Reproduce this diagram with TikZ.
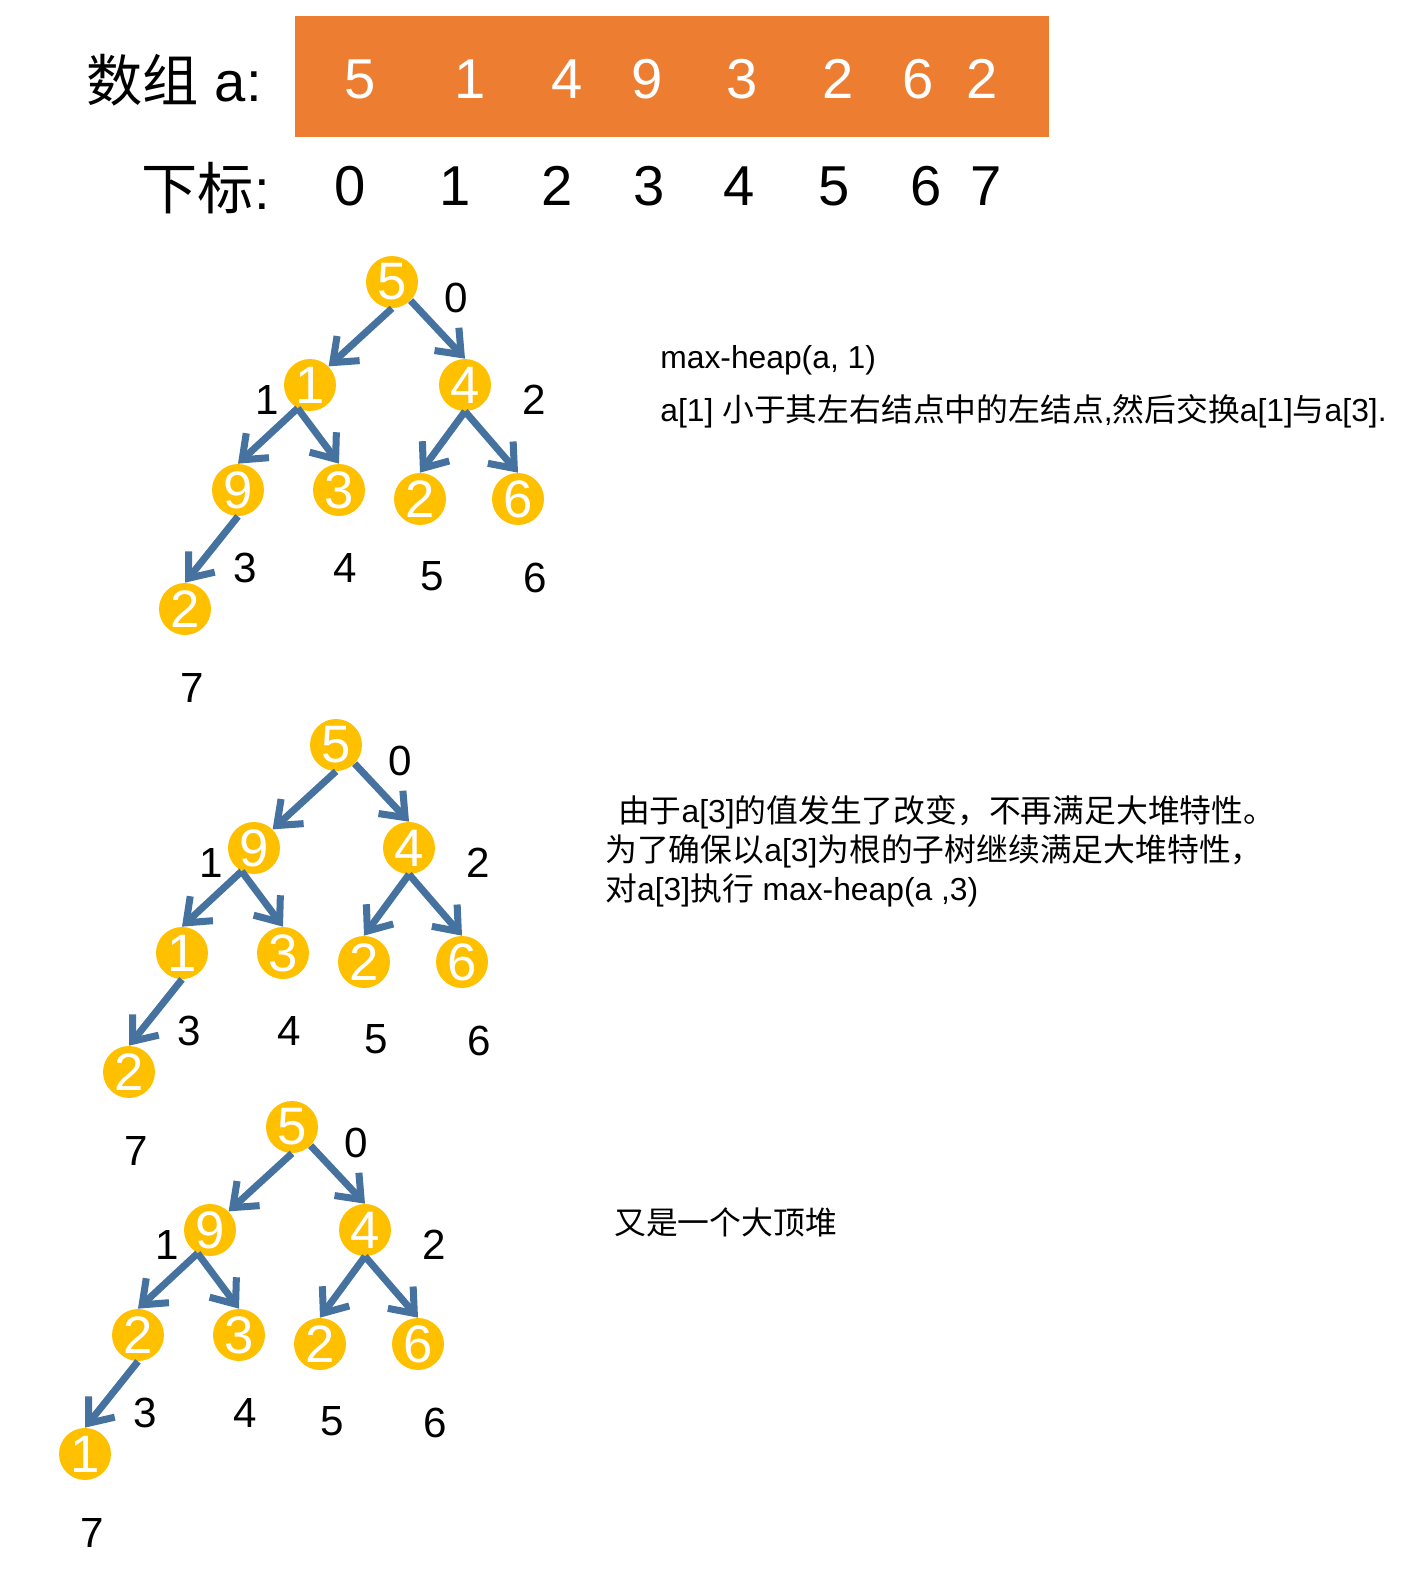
\documentclass[tikz,border=0pt]{standalone}
\usepackage{fontspec}
\setmainfont{Liberation Sans}
\newfontfamily\cjk{Noto Sans CJK SC}
\usepackage{tikz}
\usetikzlibrary{arrows.meta}
\definecolor{heapgold}{RGB}{255,192,0}
\definecolor{arrowblue}{RGB}{70,114,160}
\definecolor{arrayorange}{RGB}{237,125,49}

\newcommand{\heaptree}[9]{%
  \node[hnode] (#1n0) at (0,0)       {#2};
  \node[hnode] (#1n1) at (-82,103)   {#3};
  \node[hnode] (#1n2) at (73,103)    {#4};
  \node[hnode] (#1n3) at (-154,208)  {#5};
  \node[hnode] (#1n4) at (-53,208)   {#6};
  \node[hnode] (#1n5) at (28,217)    {#7};
  \node[hnode] (#1n6) at (126,217)   {#8};
  \node[hnode] (#1n7) at (-207,327)  {#9};
  \node[idx] (#1i0) at (64,16)    {0};
  \node[idx] (#1i1) at (-125,118) {1};
  \node[idx] (#1i2) at (142,118)  {2};
  \node[idx] (#1i3) at (-147,286) {3};
  \node[idx] (#1i4) at (-47,286)  {4};
  \node[idx] (#1i5) at (40,294)   {5};
  \node[idx] (#1i6) at (143,296)  {6};
  \node[idx] (#1i7) at (-200,406) {7};
  \draw[arr] (#1n0.south)      -- (#1n1.north east);
  \draw[arr] (#1n0.south east) -- (#1n2.north);
  \draw[arr] (#1n1.-118)       -- (#1n3.north);
  \draw[arr] (#1n1.-118)       -- (#1n4.north);
  \draw[arr] (#1n2.south)      -- (#1n5.north);
  \draw[arr] (#1n2.south)      -- (#1n6.north);
  \draw[arr] (#1n3.south)      -- (#1n7.north);
}

\begin{document}
\begin{tikzpicture}[
  x=0.02cm, y=-0.02cm,
  hnode/.style={circle, fill=heapgold, text=white, inner sep=0pt,
                minimum size=1.04cm, font=\fontsize{30}{36}\selectfont},
  idx/.style={inner sep=0pt, font=\fontsize{24}{29}\selectfont},
  arr/.style={-{Straight Barb[length=12pt, width=19pt]}, line width=4pt,
              draw=arrowblue},
  arraybox/.style={rectangle, fill=arrayorange, minimum width=15.08cm,
                   minimum height=2.42cm, inner sep=0pt},
  val/.style={inner sep=0pt, text=white, font=\fontsize{32}{38}\selectfont},
  big/.style={inner sep=0pt, font=\fontsize{32}{38}\selectfont},
  note/.style={inner sep=0pt, anchor=base west, align=left,
               font=\fontsize{18.1}{22}\selectfont}
]
  \useasboundingbox (0,0) rectangle (1422,1572);

  \node[arraybox] (arr) at (672,76.5) {};
  \node[big, anchor=east] (arrname) at (262,80) {{\cjk 数组} a:};
  \foreach \v/\x [count=\i from 0] in {5/360,1/470,4/567,9/647,3/742,2/838,6/918,2/982}
    \node[val] (v\i) at (\x,79) {\v};
  \node[big, anchor=east] (idxname) at (270,188) {{\cjk 下标}:};
  \foreach \x [count=\i from 0] in {350,455,557,649,739,834,926,986}
    \node[big] (k\i) at (\x,186) {\i};

  \begin{scope}[shift={(392,282)}]
    \heaptree{a}{5}{1}{4}{9}{3}{2}{6}{2}
  \end{scope}
  \begin{scope}[shift={(336,745)}]
    \heaptree{b}{5}{9}{4}{1}{3}{2}{6}{2}
  \end{scope}
  \begin{scope}[shift={(292,1127)}]
    \heaptree{c}{5}{9}{4}{2}{3}{2}{6}{1}
  \end{scope}

  \node[note] (step1a) at (660,368) {max-heap(a, 1)};
  \node[note] (step1b) at (660,421)
    {a[1] {\cjk 小于其左右结点中的左结点},{\cjk 然后交换}a[1]{\cjk 与}a[3].};
  \node[note] (step2) at (605,900)
    {\hspace{0.4em}{\cjk 由于}a[3]{\cjk 的值发生了改变，不再满足大堆特性。}\\
     {\cjk 为了确保以}a[3]{\cjk 为根的子树继续满足大堆特性，}\\
     {\cjk 对}a[3]{\cjk 执行} max-heap(a ,3)};
  \node[note] (step3) at (614,1234) {{\cjk 又是一个大顶堆}};
\end{tikzpicture}
\end{document}
